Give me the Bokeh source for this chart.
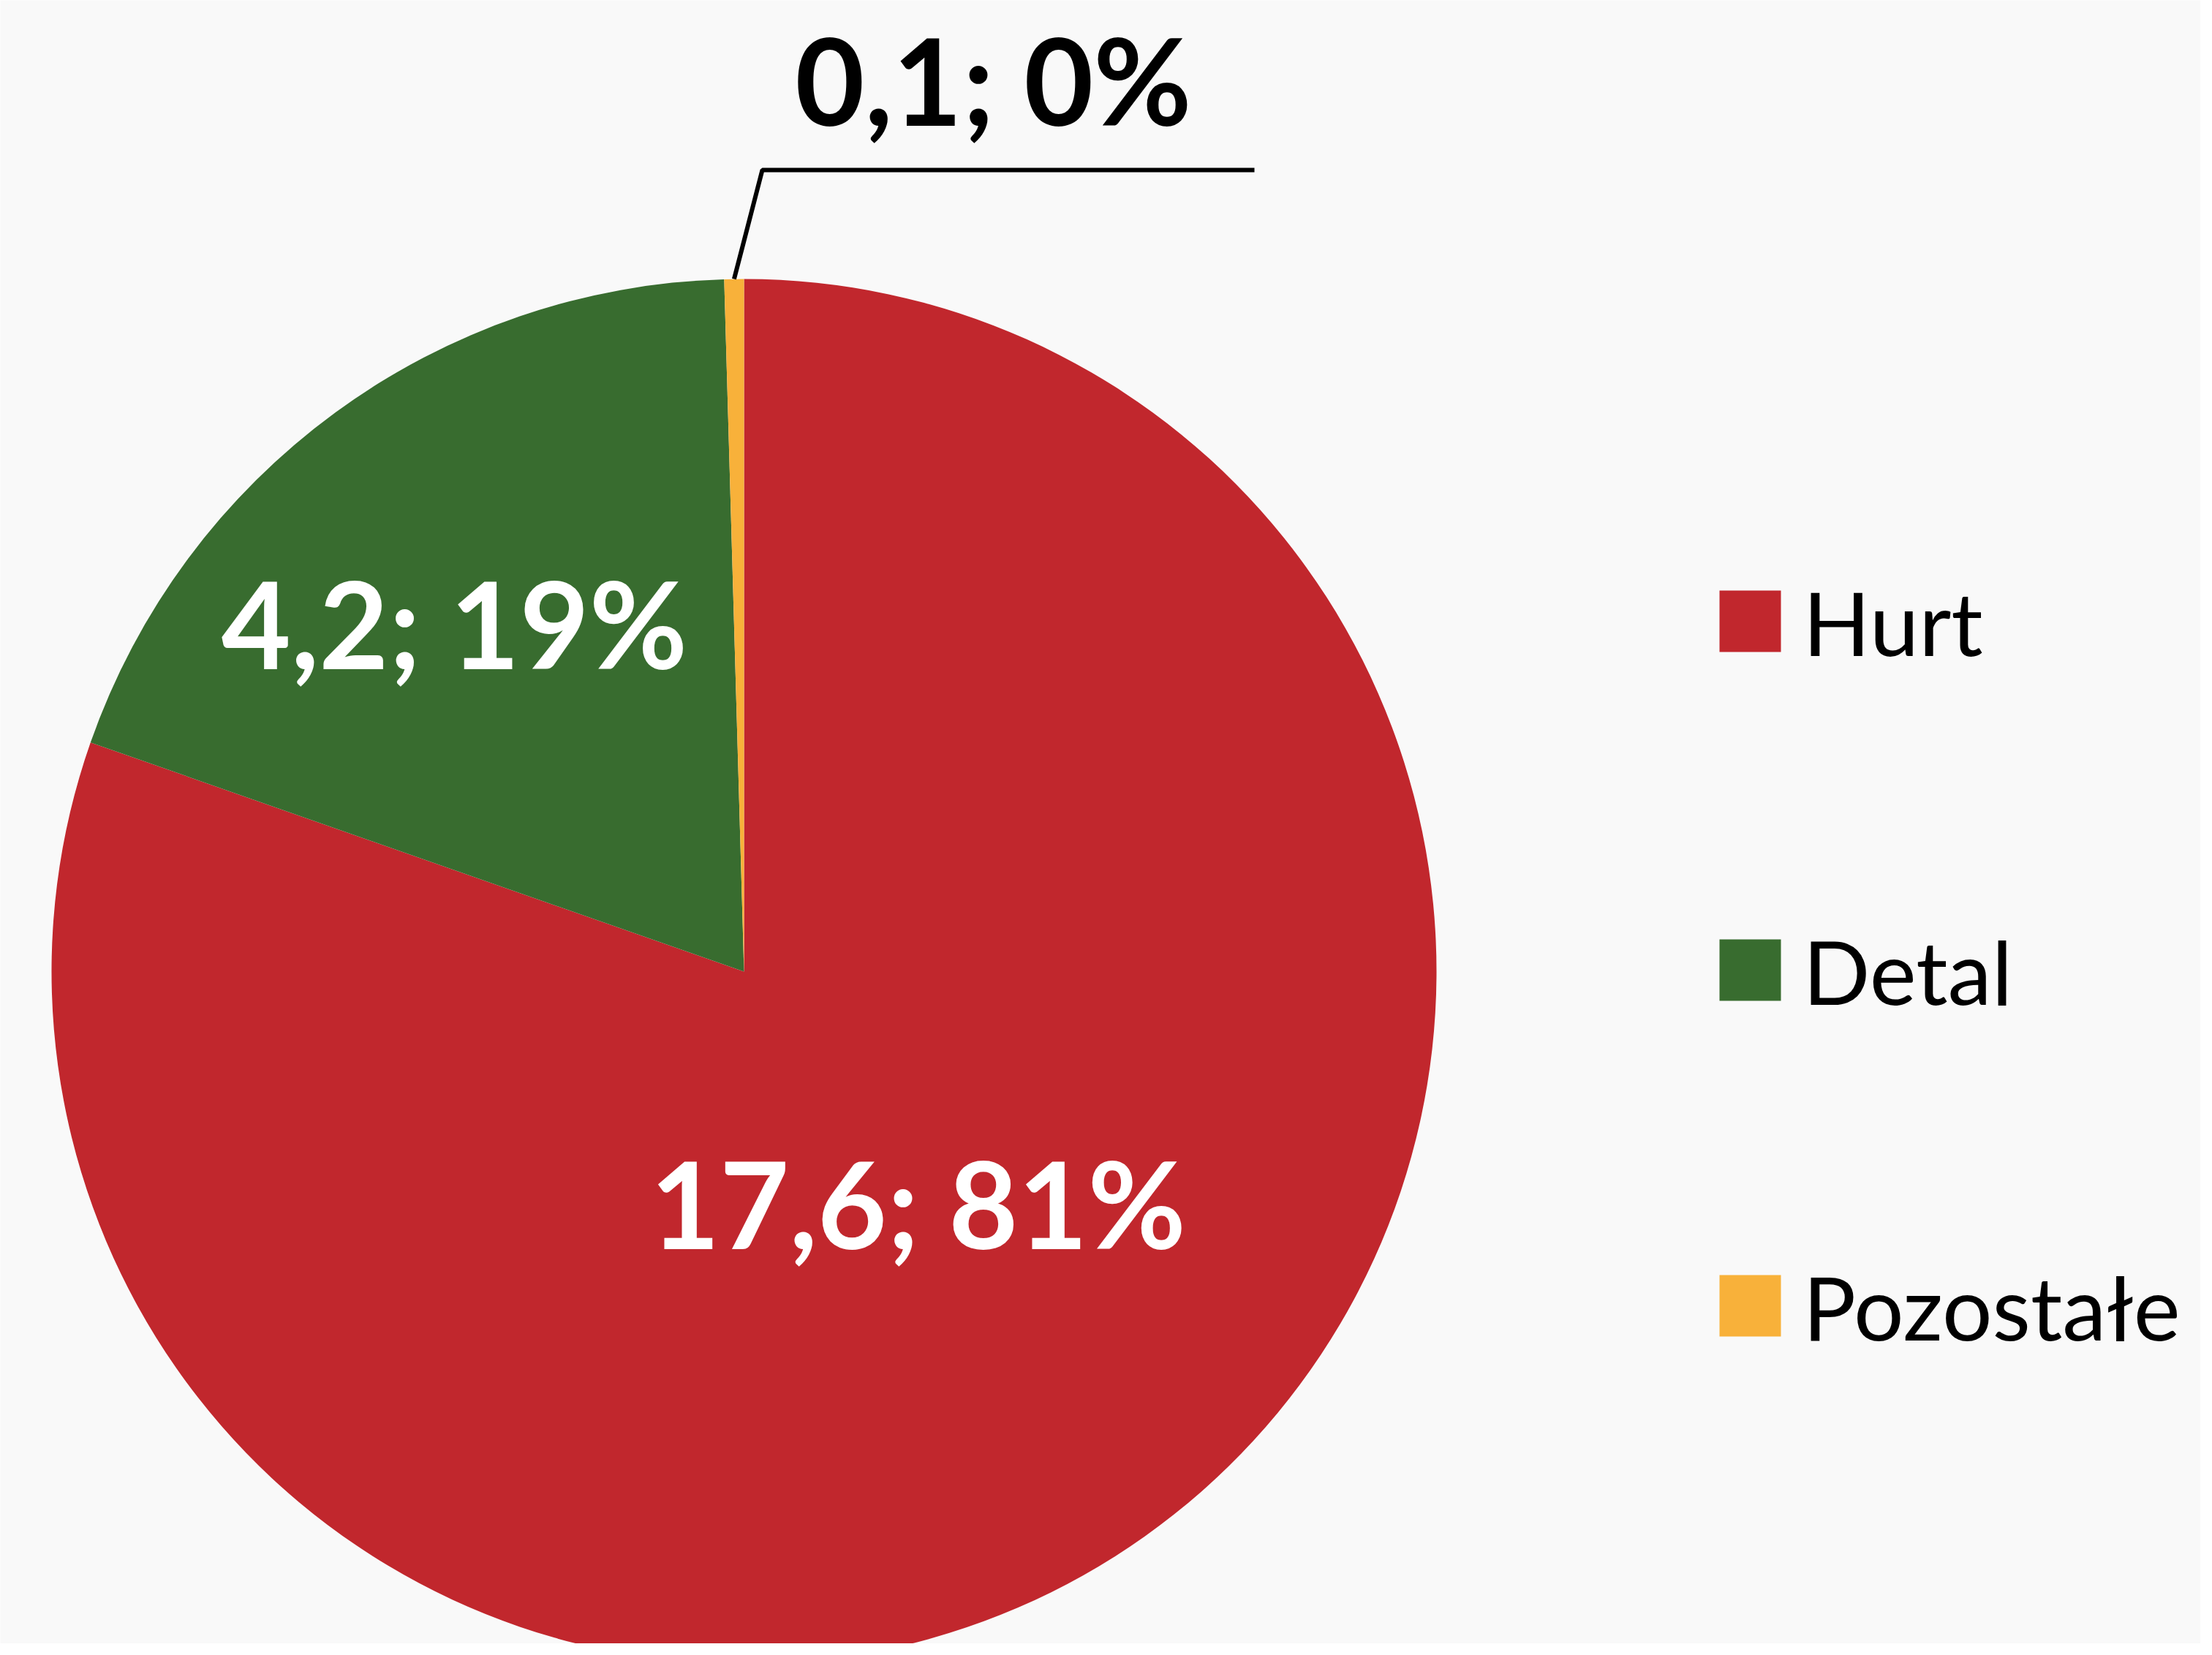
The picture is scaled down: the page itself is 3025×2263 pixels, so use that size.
import numpy as np
from bokeh.plotting import figure
from bokeh.models import Range1d, ColumnDataSource
from bokeh.core.properties import value
from bokeh.embed import file_html
from bokeh.resources import INLINE

# ---- data ----
categories = ["Hurt", "Detal", "Pozostałe"]
values = [17.6, 4.2, 0.1]
percents = [81, 19, 0]
colors = ["#c1272d", "#386c2f", "#f8b13a"]

BG = "#f9f9f9"
W, H = 3009, 2247
FONT = "Lato"
LABEL_SIZE = 164
LEGEND_SIZE = 121


def px(X, Y):
    """picture pixel -> data coords"""
    return X, H - Y


def base(Y, size):
    """baseline correction for text placement"""
    return Y - 0.39 * size


p = figure(width=W, height=H, output_backend="svg", toolbar_location=None,
           x_range=Range1d(0, W), y_range=Range1d(0, H),
           x_axis_type=None, y_axis_type=None, min_border=0)
p.outline_line_color = None
p.background_fill_color = BG
p.border_fill_color = BG
p.grid.visible = False

# ---- pie ----
vals = np.array(values, dtype=float)
cum = np.concatenate([[0], np.cumsum(vals)]) / vals.sum()
start = np.pi / 2 - cum[:-1] * 2 * np.pi
end = np.pi / 2 - cum[1:] * 2 * np.pi
cx, cy = px(1017, 1328)
R = 947

src = ColumnDataSource(dict(cat=categories, start=start, end=end, color=colors))
p.wedge(x=cx, y=cy, radius=R, start_angle="start", end_angle="end",
        direction="clock", fill_color="color", line_color=None, source=src)

# ---- labels ----
def fmt(v, pc):
    return f"{v:.1f}".replace(".", ",") + f"; {pc}%"

labels = [fmt(v, pc) for v, pc in zip(values, percents)]
label_pos = [px(1255, base(1708, LABEL_SIZE)), px(621, base(915, LABEL_SIZE)),
             px(1358, base(172, LABEL_SIZE))]
label_col = ["white", "white", "black"]
ls = ColumnDataSource(dict(x=[q[0] for q in label_pos], y=[q[1] for q in label_pos],
                           t=labels, c=label_col))
p.text(x="x", y="y", text="t", text_color="c", source=ls,
       text_font=value(FONT), text_font_style="bold",
       text_font_size=f"{LABEL_SIZE}px",
       text_align="center", text_baseline="alphabetic")

# leader line for the small slice
mid = (start[2] + end[2]) / 2
sx, sy = cx + R * np.cos(mid), cy + R * np.sin(mid)
ex, ey = px(1042, 232)
fx, fy = px(1715, 232)
p.line(x=[sx, ex, fx], y=[sy, ey, fy], line_color="black", line_width=6)

# ---- legend ----
leg_x = 2393
leg_y = [849, 1326, 1785]
sq = [px(leg_x, yy) for yy in leg_y]
lsrc = ColumnDataSource(dict(x=[q[0] for q in sq], y=[q[1] for q in sq],
                             c=colors, t=categories,
                             tx=[px(2465, 0)[0]] * 3,
                             ty=[px(0, base(yy + 48, LEGEND_SIZE))[1] for yy in leg_y]))
p.rect(x="x", y="y", width=84, height=84, fill_color="c", line_color=None,
       source=lsrc)
p.text(x="tx", y="ty", text="t", text_color="black", source=lsrc,
       text_font=value(FONT), text_font_size=f"{LEGEND_SIZE}px",
       text_align="left", text_baseline="alphabetic")

open("out.html", "w").write(file_html(p, INLINE))
